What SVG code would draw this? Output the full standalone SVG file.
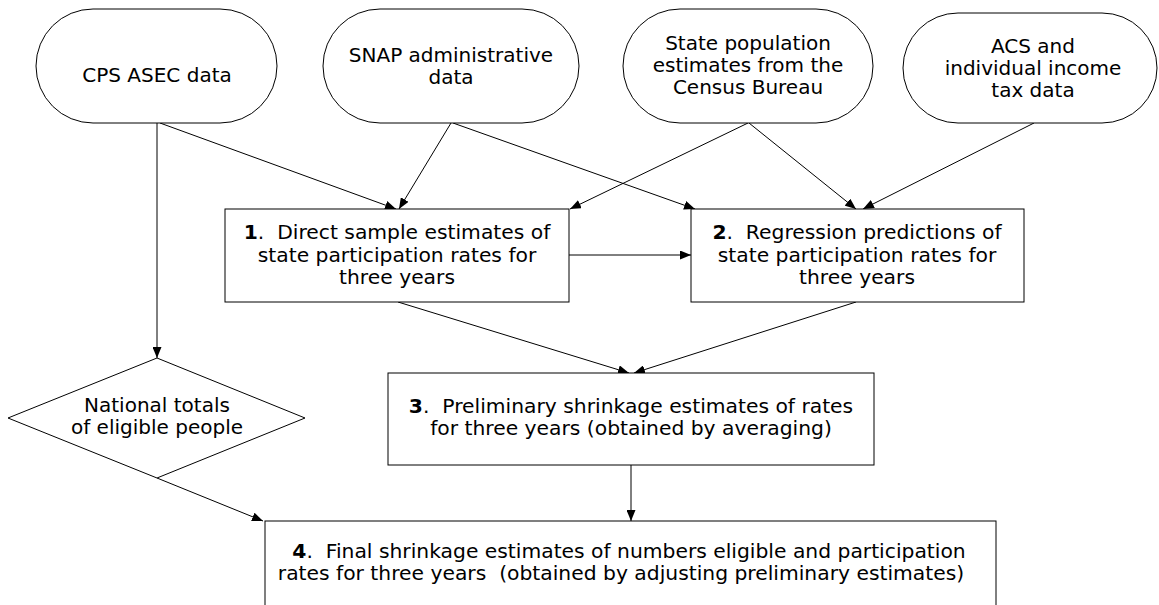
<svg xmlns="http://www.w3.org/2000/svg" width="1159" height="605" viewBox="0 0 1159 605">
<style>
.shape{fill:#fff;stroke:#000;stroke-width:1}
.t{font-family:"DejaVu Sans",Verdana,sans-serif;font-size:20px;fill:#000;text-anchor:middle}
.bx{font-size:20.3px}
.b{font-weight:bold}
.c{stroke:#000;stroke-width:1;fill:none;marker-end:url(#ah)}
</style>
<defs>
<marker id="ah" viewBox="0 0 11 9" refX="11" refY="4.5" markerWidth="11" markerHeight="9" markerUnits="userSpaceOnUse" orient="auto">
<path d="M0,0 L11,4.5 L0,9 Z" fill="#000"/>
</marker>
</defs>
<rect width="1159" height="605" fill="#fff"/>
<g id="connectors">
<path class="c" d="M157,123 L157,358"/>
<path class="c" d="M160,123 L396,209"/>
<path class="c" d="M451,123 L399,209"/>
<path class="c" d="M453,123 L695,209"/>
<path class="c" d="M748,123 L570,209"/>
<path class="c" d="M749,123 L856,209"/>
<path class="c" d="M1034,123 L863,209"/>
<path class="c" d="M569,255 L691,255"/>
<path class="c" d="M398,302 L629,373"/>
<path class="c" d="M856,302 L634,373"/>
<path class="c" d="M631,465 L631,521"/>
<path class="c" d="M157,478 L263,521"/>
</g>
<g id="cps">
<rect class="shape" x="36" y="9" width="241" height="114" rx="57" ry="57"/>
<text class="t" x="157" y="82">CPS ASEC data</text>
</g>
<g id="snap">
<rect class="shape" x="323" y="9" width="256" height="114" rx="57" ry="57"/>
<text class="t" x="451" y="62">SNAP administrative</text>
<text class="t" x="451" y="84">data</text>
</g>
<g id="statepop">
<rect class="shape" x="623" y="9" width="250" height="114" rx="57" ry="57"/>
<text class="t" x="748" y="50">State population</text>
<text class="t" x="748" y="72">estimates from the</text>
<text class="t" x="748" y="94">Census Bureau</text>
</g>
<g id="acs">
<rect class="shape" x="903" y="13" width="254" height="110" rx="55" ry="55"/>
<text class="t" x="1033" y="53">ACS and</text>
<text class="t" x="1033" y="75">individual income</text>
<text class="t" x="1033" y="97">tax data</text>
</g>
<g id="box1">
<rect class="shape" x="225" y="209" width="344" height="93"/>
<text class="t bx" x="397" y="239"><tspan class="b">1</tspan>.&#160; Direct sample estimates of</text>
<text class="t bx" x="397" y="262">state participation rates for</text>
<text class="t bx" x="397" y="284">three years</text>
</g>
<g id="box2">
<rect class="shape" x="691" y="209" width="333" height="93"/>
<text class="t bx" x="857" y="239"><tspan class="b">2</tspan>.&#160; Regression predictions of</text>
<text class="t bx" x="857" y="262">state participation rates for</text>
<text class="t bx" x="857" y="284">three years</text>
</g>
<g id="national">
<polygon class="shape" points="157,358 305,418 157,478 8,418"/>
<text class="t" x="157" y="412">National totals</text>
<text class="t" x="157" y="434">of eligible people</text>
</g>
<g id="box3">
<rect class="shape" x="388" y="373" width="486" height="92"/>
<text class="t bx" x="631" y="413"><tspan class="b">3</tspan>.&#160; Preliminary shrinkage estimates of rates</text>
<text class="t bx" x="631" y="435">for three years (obtained by averaging)</text>
</g>
<g id="box4">
<rect class="shape" x="265" y="521" width="731" height="100"/>
<text class="t bx" x="629" y="558"><tspan class="b">4</tspan>.&#160; Final shrinkage estimates of numbers eligible and participation</text>
<text class="t bx" x="621" y="580">rates for three years&#160; (obtained by adjusting preliminary estimates)</text>
</g>
</svg>
